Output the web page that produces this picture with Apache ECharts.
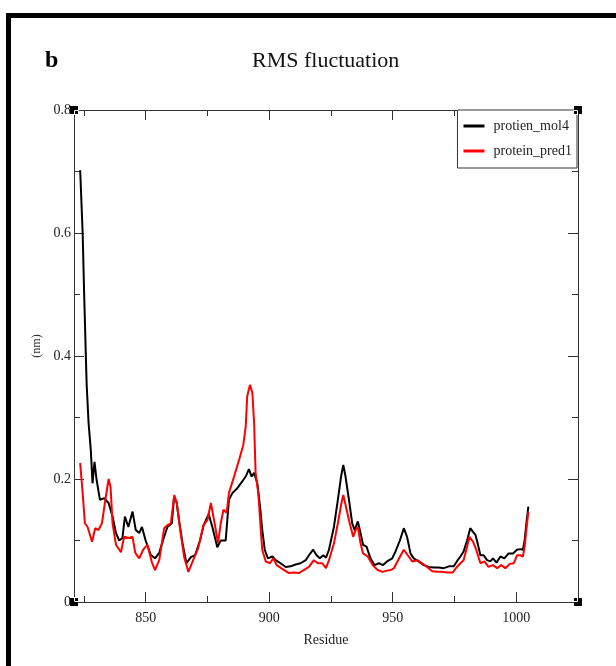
<!DOCTYPE html>
<html>
<head>
<meta charset="utf-8">
<script src="https://cdn.jsdelivr.net/npm/echarts@6/dist/echarts.min.js"></script>
<style>
  html, body { margin: 0; padding: 0; background: #fff; }
  #chart { width: 616px; height: 666px; }
</style>
</head>
<body>
<div id="chart"></div>
<script>
"use strict";

// RMSF, protien_mol4 (black)
var mol4Residue = [823.5, 824.5, 825.1, 826.1, 826.9, 827.8, 828.5, 829.3, 830.1, 831.5, 833.2, 835, 836.6, 838, 839.3, 840.6, 841.6, 843, 844.7, 846, 847.4, 848.5, 850, 852, 853.8, 855.5, 857, 858.8, 860.6, 861.5, 862.5, 863.5, 864.9, 866.5, 868.3, 870, 872, 873.5, 875.5, 877, 879, 880.4, 882.4, 883.7, 885.1, 887.1, 889.1, 890.5, 891.8, 892.9, 893.9, 895.2, 896.3, 897.2, 898.2, 899.5, 901.3, 902.6, 904.6, 906.7, 908.7, 910.7, 912.7, 914.8, 916.1, 917.8, 919.2, 920.5, 921.9, 923, 924.2, 926.2, 927.8, 929.1, 930, 930.9, 932.3, 933.6, 934.6, 935.9, 937, 938, 939.4, 941, 942.6, 944.4, 946.1, 947.7, 949.8, 951.1, 952.9, 954.5, 955.8, 957.2, 958.5, 960.5, 962.6, 964.6, 966.6, 968.6, 970.7, 972.7, 974.7, 976.3, 977.4, 978.7, 980.1, 981.4, 982.5, 983.5, 984.4, 985.5, 986.8, 988.2, 989.5, 990.6, 992, 993.6, 995.2, 996.9, 998.7, 1000.3, 1001.7, 1002.7, 1003.4, 1004.1, 1004.9];
var mol4Rmsf = [0.702, 0.60, 0.502, 0.356, 0.291, 0.247, 0.193, 0.228, 0.20, 0.166, 0.169, 0.161, 0.139, 0.112, 0.10, 0.104, 0.139, 0.122, 0.147, 0.117, 0.112, 0.122, 0.10, 0.077, 0.071, 0.080, 0.10, 0.122, 0.128, 0.171, 0.163, 0.133, 0.096, 0.063, 0.073, 0.076, 0.100, 0.125, 0.143, 0.122, 0.089, 0.10, 0.10, 0.166, 0.177, 0.185, 0.196, 0.204, 0.216, 0.204, 0.21, 0.193, 0.155, 0.117, 0.085, 0.071, 0.074, 0.068, 0.063, 0.057, 0.058, 0.061, 0.063, 0.068, 0.076, 0.085, 0.076, 0.071, 0.076, 0.072, 0.085, 0.122, 0.166, 0.204, 0.223, 0.204, 0.166, 0.128, 0.117, 0.131, 0.112, 0.093, 0.09, 0.071, 0.06, 0.063, 0.06, 0.066, 0.071, 0.082, 0.10, 0.12, 0.106, 0.079, 0.071, 0.066, 0.06, 0.057, 0.056, 0.056, 0.055, 0.058, 0.058, 0.068, 0.074, 0.082, 0.10, 0.12, 0.114, 0.109, 0.095, 0.076, 0.076, 0.068, 0.066, 0.071, 0.064, 0.074, 0.071, 0.079, 0.079, 0.085, 0.086, 0.085, 0.10, 0.128, 0.155];

// RMSF, protein_pred1 (red)
var pred1Residue = [823.5, 824.5, 825.4, 826.5, 828.3, 829.6, 830.9, 832.3, 833.5, 835, 835.8, 836.6, 838, 840, 841.3, 843.3, 844.7, 845.8, 847.4, 849, 850.7, 852.5, 853.8, 855.5, 857.5, 858.8, 860.2, 861.6, 862.6, 864, 865.6, 867.3, 868.9, 871.3, 873.4, 875, 876.4, 877.7, 879.3, 880.4, 881.5, 882.8, 883.7, 885.8, 887.8, 889.5, 890.5, 891.1, 892.2, 893.2, 893.9, 894.5, 895.6, 896.6, 897.2, 898.6, 900.3, 901.7, 903, 905.3, 908, 910, 912, 914, 916.1, 918.1, 919.7, 921.5, 923, 924.2, 926.2, 927.8, 929.1, 930, 930.9, 932.3, 934, 935, 935.9, 937, 938, 939.9, 941.9, 943.9, 945.9, 947.7, 949.3, 950.5, 952.6, 954.5, 956.1, 957.9, 959.9, 961.9, 963.9, 966, 968, 970, 972, 974.3, 976, 977.4, 978.7, 980.1, 981.1, 982.5, 983.8, 985.5, 987.1, 988.8, 990.6, 992.3, 993.9, 995.6, 997.4, 999, 1000.3, 1001.7, 1002.7, 1003.4, 1004.1, 1004.9];
var pred1Rmsf = [0.226, 0.177, 0.128, 0.122, 0.098, 0.12, 0.117, 0.128, 0.161, 0.20, 0.187, 0.128, 0.093, 0.081, 0.106, 0.104, 0.106, 0.08, 0.071, 0.085, 0.093, 0.065, 0.052, 0.068, 0.12, 0.125, 0.128, 0.174, 0.161, 0.117, 0.073, 0.049, 0.065, 0.088, 0.125, 0.133, 0.161, 0.133, 0.096, 0.128, 0.15, 0.145, 0.177, 0.204, 0.231, 0.255, 0.285, 0.334, 0.353, 0.34, 0.291, 0.21, 0.177, 0.117, 0.085, 0.066, 0.063, 0.071, 0.06, 0.054, 0.047, 0.048, 0.047, 0.052, 0.057, 0.068, 0.063, 0.063, 0.055, 0.068, 0.095, 0.128, 0.158, 0.174, 0.158, 0.133, 0.106, 0.117, 0.122, 0.095, 0.079, 0.074, 0.06, 0.052, 0.049, 0.051, 0.052, 0.055, 0.071, 0.085, 0.076, 0.066, 0.068, 0.063, 0.057, 0.05, 0.049, 0.049, 0.048, 0.048, 0.057, 0.063, 0.068, 0.09, 0.106, 0.098, 0.085, 0.063, 0.066, 0.057, 0.06, 0.055, 0.06, 0.055, 0.062, 0.063, 0.076, 0.076, 0.074, 0.09, 0.117, 0.147];

var xMajorTicks = [850, 900, 950, 1000];
var xMinorTicks = [825, 875, 925, 975];
var legendNames = ["protien_mol4", "protein_pred1"];

var FONT = "'Liberation Serif', 'DejaVu Serif', serif";
var G = { left: 74, top: 110, right: 38, bottom: 64 };
var W = 616, H = 666;

function pairs(xs, ys) {
  var out = [];
  for (var i = 0; i < xs.length; i++) out.push([xs[i], ys[i]]);
  return out;
}

//x轴，主刻度和次刻度分开画
function xAxisOf(pos, ticks, len, showLine, showLabel) {
  return {
    type: "value", position: pos, min: 821, max: 1025,
    axisLine: { show: showLine, onZero: false, lineStyle: { color: "#333", width: 1 } },
    axisTick: { show: true, inside: true, length: len, customValues: ticks, lineStyle: { color: "#333" } },
    axisLabel: {
      show: showLabel, customValues: ticks, fontFamily: FONT, fontSize: 14, color: "#222", margin: 9,
      formatter: function (v) { return String(v); }
    },
    splitLine: { show: false }
  };
}

function yAxisOf(pos, showLabel) {
  return {
    type: "value", position: pos, min: 0, max: 0.8, interval: 0.2,
    axisLine: { show: true, onZero: false, lineStyle: { color: "#333", width: 1 } },
    axisTick: { show: true, inside: true, length: 10, lineStyle: { color: "#333" } },
    minorTick: { show: true, splitNumber: 2, length: 6, lineStyle: { color: "#333" } },
    axisLabel: { show: showLabel, fontFamily: FONT, fontSize: 14, color: "#222", margin: 3 },
    splitLine: { show: false }
  };
}

var chart = echarts.init(document.getElementById("chart"), null, { renderer: "canvas" });

var xBottom = xAxisOf("bottom", xMajorTicks, 10, true, true);
xBottom.name = "Residue";
xBottom.nameLocation = "middle";
xBottom.nameGap = 31;
xBottom.nameTextStyle = { fontFamily: FONT, fontSize: 14, color: "#222" };

var yLeft = yAxisOf("left", true);
yLeft.name = "(nm)";
yLeft.nameLocation = "middle";
yLeft.nameGap = 30;
yLeft.nameTextStyle = { fontFamily: FONT, fontSize: 12, color: "#333", padding: [0, 0, 0, 20] };

//四角的黑色小方块
var px0 = G.left, px1 = W - G.right, py0 = G.top, py1 = H - G.bottom;
var corners = [[px0, py0, 1, 1], [px1, py0, -1, 1], [px0, py1, 1, -1], [px1, py1, -1, -1]];
var cornerGraphics = [];
corners.forEach(function (c) {
  cornerGraphics.push({ type: "rect", shape: { x: c[0] - 4, y: c[1] - 4, width: 8, height: 8 }, style: { fill: "#000" }, z: 100 });
  cornerGraphics.push({
    type: "rect",
    shape: { x: c[0] + (c[2] > 0 ? 0.5 : -4.5), y: c[1] + (c[3] > 0 ? 0.5 : -4.5), width: 4, height: 4 },
    style: { fill: "none", stroke: "#fff", lineWidth: 1 }, z: 101
  });
});

var option = {
  backgroundColor: "#fff",
  animation: false,
  title: [
    { text: "RMS fluctuation", left: 247, top: 45, textStyle: { fontFamily: FONT, fontWeight: "normal", fontSize: 22, color: "#111" } },
    { text: "b", left: 40, top: 44, textStyle: { fontFamily: FONT, fontWeight: "bold", fontSize: 24, color: "#000" } }
  ],
  legend: {
    data: legendNames,
    orient: "vertical",
    right: G.right + 1, top: G.top,
    backgroundColor: "#fff",
    borderColor: "#333", borderWidth: 1, borderRadius: 0,
    padding: [9, 5, 10, 6],
    itemGap: 11,
    itemWidth: 21, itemHeight: 3,
    icon: "rect",
    textStyle: { fontFamily: FONT, fontSize: 14, color: "#222", padding: [0, 0, 0, 4] }
  },
  grid: { left: G.left, top: G.top, right: G.right, bottom: G.bottom },
  xAxis: [
    xBottom,
    xAxisOf("bottom", xMinorTicks, 6, false, false),
    xAxisOf("top", xMajorTicks, 10, true, false),
    xAxisOf("top", xMinorTicks, 6, false, false)
  ],
  yAxis: [yLeft, yAxisOf("right", false)],
  series: [
    {
      name: legendNames[0], type: "line", xAxisIndex: 0, yAxisIndex: 0,
      data: pairs(mol4Residue, mol4Rmsf),
      showSymbol: false, symbol: "none",
      lineStyle: { color: "#000", width: 2 }, itemStyle: { color: "#000" }
    },
    {
      name: legendNames[1], type: "line", xAxisIndex: 0, yAxisIndex: 0,
      data: pairs(pred1Residue, pred1Rmsf),
      showSymbol: false, symbol: "none",
      lineStyle: { color: "#ff0000", width: 2 }, itemStyle: { color: "#ff0000" }
    }
  ],
  graphic: [
    //外框
    { type: "rect", shape: { x: 6, y: 13, width: 610, height: 5 }, style: { fill: "#000" } },
    { type: "rect", shape: { x: 6, y: 13, width: 5, height: 653 }, style: { fill: "#000" } }
  ].concat(cornerGraphics)
};

chart.setOption(option);
</script>
</body>
</html>
